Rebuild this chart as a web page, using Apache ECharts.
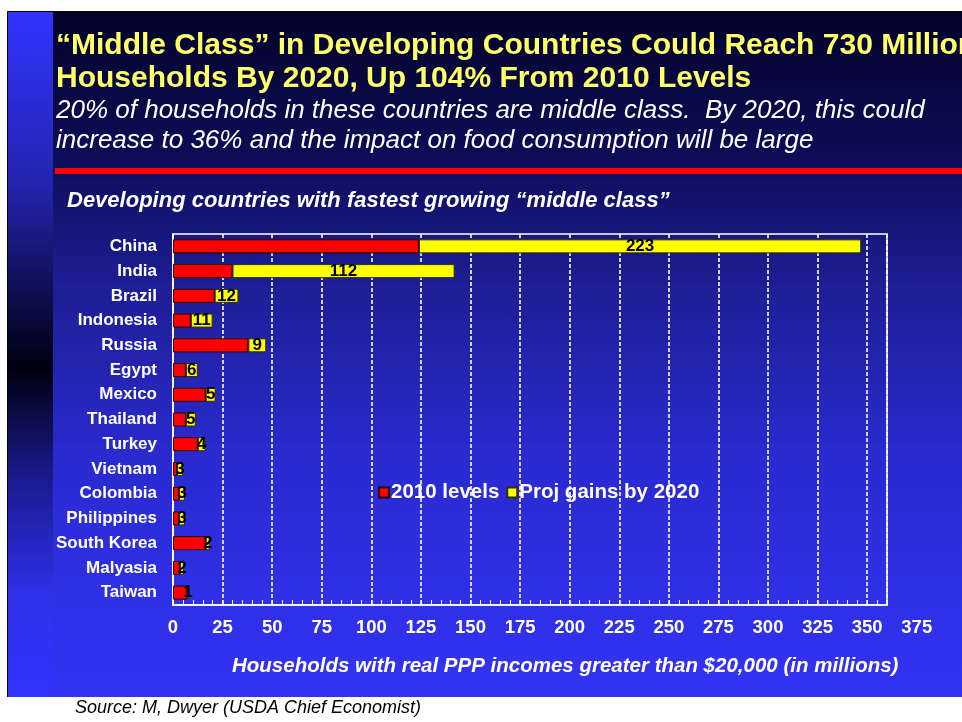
<!DOCTYPE html>
<html>
<head>
<meta charset="utf-8">
<script src="https://cdn.jsdelivr.net/npm/echarts@6/dist/echarts.min.js"></script>
<style>
  html, body { margin: 0; padding: 0; background: #fff; }
  #slide {
    position: absolute; left: 7px; top: 11px; width: 955px; height: 685px;
    border-left: 1px solid #000; border-top: 1px solid #000;
    background: linear-gradient(to bottom, #03032a 0%, #0c0c55 20%, #1e1e95 40%, #2a2ad0 65%, #3333f5 100%);
  }
  #stripe {
    position: absolute; left: 8px; top: 12px; width: 45px; height: 685px;
    background: linear-gradient(to bottom, #3333ff 0%, #2424b0 25%, #000010 52%, #1a1a90 68%, #3030e8 85%, #3333ff 100%);
  }
  #redline { position: absolute; left: 55px; top: 168px; width: 907px; height: 6px; background: #ff0000; }
  #main { position: absolute; left: 0; top: 0; width: 962px; height: 722px; }
</style>
</head>
<body>
<div id="slide"></div>
<div id="stripe"></div>
<div id="redline"></div>
<div id="main"></div>
<script>
// categories, top to bottom
const countries = ["China", "India", "Brazil", "Indonesia", "Russia", "Egypt", "Mexico", "Thailand",
  "Turkey", "Vietnam", "Colombia", "Philippines", "South Korea", "Malyasia", "Taiwan"];
// 2010 levels (millions of households)
const levels2010 = [124, 30, 21, 9, 38, 6.5, 16.5, 6.5, 12.5, 2, 3, 3, 16.5, 3.5, 7];
// projected gains by 2020
const gains2020 = [223, 112, 12, 11, 9, 6, 5, 5, 4, 3, 3, 3, 2, 2, 1];
const xTicks = { min: 0, max: 375, step: 25 };

const chart = echarts.init(document.getElementById("main"));
const sans = '"Liberation Sans", Arial, sans-serif';

const option = {
  backgroundColor: "transparent",
  title: [
    {
      text: "\u201cMiddle Class\u201d in Developing Countries Could Reach 730 Million\nHouseholds By 2020, Up 104% From 2010 Levels",
      left: 56, top: 29, padding: 0,
      textStyle: { color: "#ffff66", fontFamily: sans, fontWeight: "bold", fontSize: 30, lineHeight: 33 }
    },
    {
      text: "20% of households in these countries are middle class.  By 2020, this could\nincrease to 36% and the impact on food consumption will be large",
      left: 56, top: 96, padding: 0,
      textStyle: { color: "#ffffff", fontFamily: sans, fontStyle: "italic", fontWeight: "normal", fontSize: 26, lineHeight: 30 }
    },
    {
      text: "Developing countries with fastest growing \u201cmiddle class\u201d",
      left: 67, top: 190, padding: 0,
      textStyle: { color: "#ffffff", fontFamily: sans, fontStyle: "italic", fontWeight: "bold", fontSize: 22 }
    },
    {
      text: "Households with real PPP incomes greater than $20,000 (in millions)",
      left: 232, top: 656, padding: 0,
      textStyle: { color: "#ffffff", fontFamily: sans, fontStyle: "italic", fontWeight: "bold", fontSize: 20.5 }
    },
    {
      text: "Source: M, Dwyer (USDA Chief Economist)",
      left: 75, top: 699, padding: 0,
      textStyle: { color: "#000000", fontFamily: sans, fontStyle: "italic", fontWeight: "normal", fontSize: 18 }
    }
  ],
  legend: {
    left: 373, top: 477,
    itemWidth: 10, itemHeight: 10, itemGap: 7,
    icon: "rect",
    textStyle: { color: "#ffffff", fontFamily: sans, fontWeight: "bold", fontSize: 20.5, padding: [0, 0, 0, -3] }
  },
  grid: [
    { left: 173, top: 234, width: 714, height: 371, show: true, borderColor: "#ffffff", borderWidth: 1.5, containLabel: false },
    { left: 173, top: 234, width: 743.75, height: 371, show: false }
  ],
  xAxis: [
    {
      type: "value", gridIndex: 0, min: 0, max: 360, interval: xTicks.step,
      axisLine: { show: true, lineStyle: { color: "#ffffff", width: 1.5 } },
      axisTick: { show: true, inside: true, length: 5, lineStyle: { color: "#ffffff" } },
      minorTick: { show: true, splitNumber: 5, length: 5, lineStyle: { color: "#ffffff" } },
      axisLabel: { show: false },
      splitLine: { show: true, lineStyle: { color: "#ffffff", width: 2, type: [4, 2], opacity: 0.8 } }
    },
    {
      type: "value", gridIndex: 1, min: xTicks.min, max: xTicks.max, interval: xTicks.step,
      axisLine: { show: false }, axisTick: { show: false }, splitLine: { show: false },
      axisLabel: { color: "#ffffff", fontFamily: sans, fontWeight: "bold", fontSize: 18.5, margin: 13, showMaxLabel: true }
    }
  ],
  yAxis: [
    {
      type: "category", gridIndex: 0, data: countries, inverse: true,
      axisLine: { show: true, lineStyle: { color: "#ffffff", width: 1.5 } },
      axisTick: { show: false },
      axisLabel: { color: "#ffffff", fontFamily: sans, fontWeight: "bold", fontSize: 17, margin: 16 }
    },
    { type: "category", gridIndex: 1, data: countries, inverse: true, show: false }
  ],
  series: [
    {
      name: "2010 levels", type: "bar", stack: "total", barWidth: 14,
      xAxisIndex: 0, yAxisIndex: 0,
      itemStyle: { color: "#ff0000", borderColor: "#300000", borderWidth: 1 },
      data: levels2010
    },
    {
      name: "Proj gains by 2020", type: "bar", stack: "total", barWidth: 14,
      xAxisIndex: 0, yAxisIndex: 0,
      itemStyle: { color: "#ffff00", borderColor: "#303000", borderWidth: 1 },
      label: { show: true, position: "inside", color: "#000000", fontFamily: sans, fontWeight: "bold", fontSize: 17 },
      data: gains2020
    }
  ]
};
chart.setOption(option);
</script>
</body>
</html>
